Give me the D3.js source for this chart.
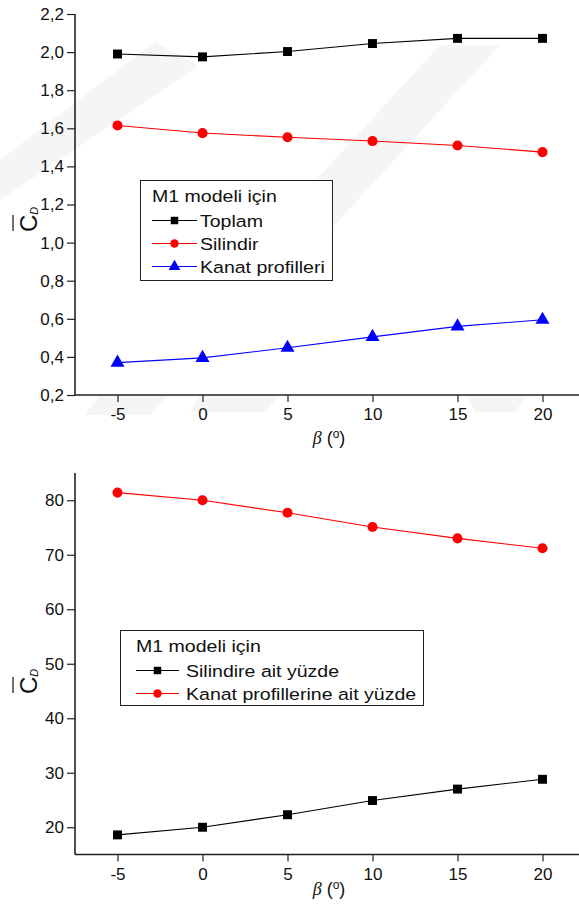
<!DOCTYPE html>
<html>
<head>
<meta charset="utf-8">
<script src="https://cdn.jsdelivr.net/npm/d3@7"></script>
<style>
  body { margin: 0; background: #fff; }
  svg { display: block; font-family: "Liberation Sans", Arial, sans-serif; }
</style>
</head>
<body>
<svg id="chart" width="579" height="908"></svg>
<script>
// beta angles (x axis)
const betas = [-5, 0, 5, 10, 15, 20];
const xTicks = [-5, 0, 5, 10, 15, 20];

// top chart: mean drag coefficient
const toplam = [1.99, 1.975, 2.003, 2.045, 2.072, 2.072];
const silindir = [1.615, 1.575, 1.553, 1.533, 1.51, 1.475];
const kanat = [0.37, 0.395, 0.448, 0.505, 0.56, 0.595];
const topYTicks = [0.2, 0.4, 0.6, 0.8, 1.0, 1.2, 1.4, 1.6, 1.8, 2.0, 2.2];

// bottom chart: percentage shares
const silindireYuzde = [18.6, 20.0, 22.3, 24.9, 27.0, 28.8];
const kanatYuzde = [81.4, 80.0, 77.7, 75.1, 73.0, 71.2];
const botYTicks = [20, 30, 40, 50, 60, 70, 80];

const svg = d3.select('#chart');

// very faint watermark bands in the background
const wm = svg.append('g').attr('fill', '#f5f5f5');
[
  [[0, 160], [155, 42], [198, 66], [0, 200]],
  [[440, 45], [500, 45], [330, 230], [270, 230]],
  [[100, 395], [170, 395], [150, 415], [85, 415]],
  [[200, 395], [280, 395], [265, 412], [190, 412]],
  [[467, 395], [527, 395], [515, 412], [475, 412]],
].forEach(p => wm.append('path').attr('d', d3.line()(p)));

const x = d3.scaleLinear().domain([-7.5, 22.5]);

function drawAxes(g, xs, ys, yTicks, yMinor, fmt) {
  const x0 = xs.range()[0];
  const y0 = ys.range()[0];
  // x axis
  const xa = g.append('g').attr('transform', `translate(0,${y0})`);
  xa.call(d3.axisBottom(xs).tickValues(d3.range(-7.5, 23, 2.5)).tickSize(4).tickFormat(''));
  xa.call(d3.axisBottom(xs).tickValues(xTicks).tickSize(7).tickPadding(6).tickFormat(d => String(d)));
  xa.select('.domain').attr('d', `M${x0},0H${xs.range()[1]}`);
  // y axis
  const ya = g.append('g').attr('transform', `translate(${x0},0)`);
  ya.call(d3.axisLeft(ys).tickValues(yMinor).tickSize(4).tickFormat(''));
  ya.call(d3.axisLeft(ys).tickValues(yTicks).tickSize(8).tickPadding(3).tickFormat(fmt));
  ya.select('.domain').attr('d', `M0,${y0}V${ys.range()[1]}`);
  g.selectAll('.domain').attr('stroke', '#222').attr('stroke-width', 1.6);
  g.selectAll('.tick line').attr('stroke', '#222').attr('stroke-width', 1.2);
  g.selectAll('.tick text').attr('font-size', 17).attr('fill', '#111')
    .attr('font-family', '"Liberation Sans", Arial, sans-serif');
}

function drawSeries(g, xs, ys, values, color, shape) {
  const pts = values.map((v, i) => [xs(betas[i]), ys(v)]);
  g.append('path').attr('d', d3.line()(pts)).attr('fill', 'none')
    .attr('stroke', color).attr('stroke-width', 1.1);
  g.selectAll(null).data(pts).enter().append('path')
    .attr('transform', d => `translate(${d[0]},${d[1]})`)
    .attr('d', d3.symbol().type(shape.type).size(shape.size))
    .attr('fill', color);
}

function legend(g, lx, ly, w, h, title, items, lineX0, lineX1, textX) {
  g.append('rect').attr('x', lx).attr('y', ly).attr('width', w).attr('height', h)
    .attr('fill', '#fff').attr('stroke', '#222').attr('stroke-width', 1);
  const txt = (tx, ty, s) => g.append('text')
    .attr('transform', `translate(${tx},${ty}) scale(1.15,1)`)
    .attr('font-size', 17).attr('fill', '#111').text(s);
  txt(lineX0, ly + 21, title);
  items.forEach((it, i) => {
    const cy = ly + 40 + i * 23;
    g.append('line').attr('x1', lineX0).attr('x2', lineX1).attr('y1', cy).attr('y2', cy)
      .attr('stroke', it.color).attr('stroke-width', 1.1);
    g.append('path').attr('transform', `translate(${(lineX0 + lineX1) / 2},${cy})`)
      .attr('d', d3.symbol().type(it.shape.type).size(it.shape.size * 0.7)).attr('fill', it.color);
    txt(textX, cy + 6, it.label);
  });
}

function yTitle(g, tx, ty) {
  const t = g.append('g').attr('transform', `translate(${tx},${ty}) rotate(-90)`);
  t.append('text').attr('font-size', 24).attr('fill', '#111').text('C')
    .append('tspan').attr('font-size', 11).attr('dy', 1).attr('font-style', 'italic').text('D');
  t.append('line').attr('x1', 1).attr('x2', 17).attr('y1', -24).attr('y2', -24)
    .attr('stroke', '#111').attr('stroke-width', 1.2);
}

function xTitle(g, cx, by) {
  const t = g.append('text').attr('x', cx).attr('y', by).attr('text-anchor', 'middle')
    .attr('font-size', 18).attr('fill', '#111');
  t.append('tspan').attr('font-family', '"Liberation Serif", serif').attr('font-style', 'italic').text('β');
  t.append('tspan').text(' (');
  t.append('tspan').attr('font-size', 12).attr('dy', -6).text('o');
  t.append('tspan').attr('dy', 6).text(')');
}

const square = { type: d3.symbolSquare, size: 80 };
const circle = { type: d3.symbolCircle, size: 80 };
const triangle = { type: d3.symbolTriangle, size: 85 };

// ---- top chart
const xTop = x.copy().range([75, 585]);
const yTop = d3.scaleLinear().domain([0.2, 2.2]).range([395, 14]);
const gTop = svg.append('g');
const commaFmt = d => d3.format('.1f')(d).replace('.', ',');
drawAxes(gTop, xTop, yTop, topYTicks, d3.range(0.3, 2.2, 0.2), commaFmt);
drawSeries(gTop, xTop, yTop, toplam, '#000', square);
drawSeries(gTop, xTop, yTop, silindir, '#ff0000', circle);
drawSeries(gTop, xTop, yTop, kanat, '#0000ff', triangle);
legend(gTop, 140.5, 180.5, 192, 100, 'M1 modeli için', [
  { label: 'Toplam', color: '#000', shape: square },
  { label: 'Silindir', color: '#ff0000', shape: circle },
  { label: 'Kanat profilleri', color: '#0000ff', shape: triangle },
], 152, 197, 200);
yTitle(gTop, 37, 232);
xTitle(gTop, 329, 444);

// ---- bottom chart
const xBot = x.copy().range([75, 585]);
const yBot = d3.scaleLinear().domain([15, 85]).range([854.5, 473]);
const gBot = svg.append('g');
drawAxes(gBot, xBot, yBot, botYTicks, d3.range(15, 86, 10), d3.format('d'));
drawSeries(gBot, xBot, yBot, silindireYuzde, '#000', square);
drawSeries(gBot, xBot, yBot, kanatYuzde, '#ff0000', circle);
legend(gBot, 120.5, 630.5, 303, 75, 'M1 modeli için', [
  { label: 'Silindire ait yüzde', color: '#000', shape: square },
  { label: 'Kanat profillerine ait yüzde', color: '#ff0000', shape: circle },
], 136, 179, 186);
yTitle(gBot, 37, 694);
xTitle(gBot, 329, 895);
</script>
</body>
</html>
